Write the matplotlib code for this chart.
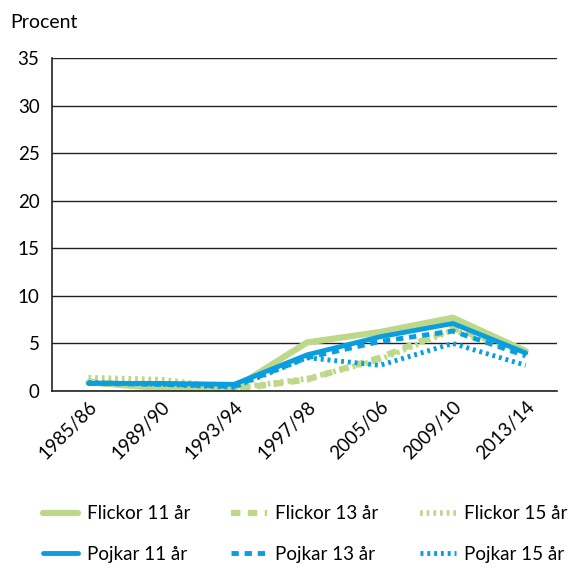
import matplotlib
matplotlib.use("Agg")
import matplotlib.pyplot as plt
from matplotlib.lines import Line2D

categories = ["1985/86", "1989/90", "1993/94", "1997/98", "2005/06", "2009/10", "2013/14"]
flickor_11 = [0.9, 0.3, 0.3, 5.1, 6.2, 7.7, 4.2]
flickor_13 = [1.0, 0.4, 0.2, 1.2, 3.5, 6.6, 4.2]
flickor_15 = [1.4, 1.2, 0.3, 1.3, 3.3, 6.4, 4.0]
pojkar_11 = [0.8, 0.8, 0.7, 3.8, 5.7, 7.1, 4.0]
pojkar_13 = [0.8, 0.7, 0.5, 3.5, 5.2, 6.3, 3.7]
pojkar_15 = [0.9, 0.7, 0.4, 3.5, 2.7, 5.0, 2.7]
yticks = [0, 5, 10, 15, 20, 25, 30, 35]

green = "#bdd888"
blue = "#0a9de0"

fs = 13.5
plt.rcParams['font.family'] = ['Lato', 'DejaVu Sans']

fig = plt.figure(figsize=(5.69, 5.68), dpi=100)
ax = fig.add_axes([52/569, 1 - 391/568, 505/569, 333/568])

x = list(range(len(categories)))
series = [
    (flickor_11, green, "-", 4.5, "Flickor 11 år"),
    (flickor_13, green, (0, (1.5, 1.2)), 4.5, "Flickor 13 år"),
    (flickor_15, green, (0, (0.5, 0.7)), 4.0, "Flickor 15 år"),
    (pojkar_11, blue, "-", 3.5, "Pojkar 11 år"),
    (pojkar_13, blue, (0, (1.5, 1.2)), 3.5, "Pojkar 13 år"),
    (pojkar_15, blue, (0, (0.6, 0.8)), 3.5, "Pojkar 15 år"),
]
handles = []
for vals, c, ls, lw, lab in series:
    ax.plot(x, vals, color=c, linestyle=ls, linewidth=lw, solid_capstyle='round')
    handles.append(Line2D([0], [0], color=c, linestyle=ls, linewidth=lw,
                          solid_capstyle='round', label=lab))

ax.set_ylim(0, 35)
ax.set_xlim(-0.5, 6.43)
ax.set_yticks(yticks)
ax.yaxis.grid(True, color='#222222', linewidth=1.0)
ax.set_axisbelow(True)
ax.set_xticks(x)
ax.set_xticklabels(categories, rotation=45, ha='right', rotation_mode='anchor', fontsize=fs)
ax.tick_params(axis='y', labelsize=fs, length=0, pad=9)
ax.tick_params(axis='x', length=0, pad=5)
for s in ['top', 'right']:
    ax.spines[s].set_visible(False)
ax.spines['left'].set_color('#222222')
ax.spines['bottom'].set_color('#222222')
ax.spines['left'].set_linewidth(1.2)
ax.spines['bottom'].set_linewidth(1.2)

fig.text(10/569, 1 - 22/568, "Procent", fontsize=14, va='center', ha='left')

order = [0, 3, 1, 4, 2, 5]
fig.legend([handles[i] for i in order], [handles[i].get_label() for i in order],
           ncol=3, loc='center', bbox_to_anchor=(0.536, 1 - 534/568), frameon=False,
           fontsize=fs, handlelength=1.9, columnspacing=2.2, handletextpad=0.45,
           labelspacing=1.25, borderpad=0.2)

fig.savefig("out.png", dpi=100)
